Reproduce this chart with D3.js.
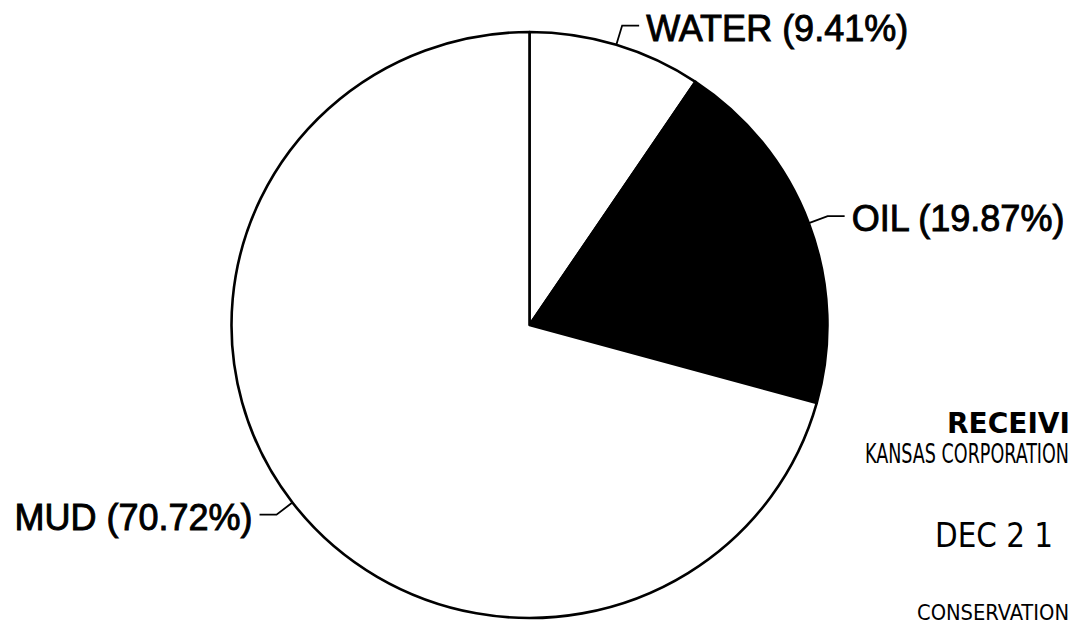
<!DOCTYPE html>
<html>
<head>
<meta charset="utf-8">
<script src="https://cdn.jsdelivr.net/npm/d3@7"></script>
<style>
  html, body { margin: 0; padding: 0; background: #fff; }
  svg { display: block; }
</style>
</head>
<body>
<svg id="chart" width="1072" height="620"></svg>
<script>
// ---- data ----
const categories = ["WATER", "OIL", "MUD"];
const values = [9.41, 19.87, 70.72];
const fills = ["#ffffff", "#000000", "#ffffff"];
const labels = ["WATER (9.41%)", "OIL (19.87%)", "MUD (70.72%)"];
// visible (cropped) text of the scanned "received" stamp
const stampLines = ["RECEIVI", "KANSAS CORPORATION", "DEC 2 1", "CONSERVATION"];

// ---- layout ----
const W = 1072, H = 620;
const cx = 529.5, cy = 325, rx = 298, ry = 293;
const svg = d3.select("#chart");

const pie = d3.pie().sort(null).value(d => d)(values);
const arc = d3.arc().innerRadius(0).outerRadius(1);

const g = svg.append("g").attr("transform", `translate(${cx},${cy}) scale(${rx},${ry})`);
g.selectAll("path.slice")
  .data(pie)
  .enter().append("path")
  .attr("class", "slice")
  .attr("d", arc)
  .attr("fill", (d, i) => fills[i])
  .attr("stroke", "#000")
  .attr("stroke-width", 2.6)
  .attr("stroke-linejoin", "round")
  .attr("vector-effect", "non-scaling-stroke");

// ---- leader lines & labels ----
const font = "'Liberation Sans', Arial, Helvetica, sans-serif";
pie.forEach((d, i) => {
  const a = (d.startAngle + d.endAngle) / 2;
  const sx = Math.sin(a), sy = -Math.cos(a);
  const p0 = [cx + rx * sx, cy + ry * sy];
  const p1 = [p0[0] + 20 * sx, p0[1] + 20 * sy];
  const side = sx >= 0 ? 1 : -1;
  const p2 = [p1[0] + 17 * side, p1[1]];
  svg.append("path")
    .attr("d", d3.line()([p0, p1, p2]))
    .attr("fill", "none")
    .attr("stroke", "#000")
    .attr("stroke-width", 1.8);
  svg.append("text")
    .attr("x", p2[0] + 7 * side)
    .attr("y", p1[1] + 15)
    .attr("text-anchor", side > 0 ? "start" : "end")
    .attr("font-family", font)
    .attr("font-size", 36)
    .attr("fill", "#000")
    .attr("stroke", "#000")
    .attr("stroke-width", 0.9)
    .text(labels[i]);
});

// ---- scanned "received" stamp ----
const stampFont = "'DejaVu Sans Condensed', 'DejaVu Sans', sans-serif";
function stamp(txt, x, y, size, len, bold) {
  svg.append("text").attr("x", x).attr("y", y)
    .attr("font-family", stampFont)
    .attr("font-weight", bold ? "bold" : "normal")
    .attr("font-size", size)
    .attr("textLength", len)
    .attr("lengthAdjust", "spacingAndGlyphs")
    .attr("fill", "#000")
    .text(txt);
}
stamp(stampLines[0], 947, 433, 29, 123, true);
stamp(stampLines[1], 865, 463, 26, 204, false);
stamp(stampLines[2], 935, 547, 34, 118, false);
stamp(stampLines[3], 917, 620, 22, 152, false);
</script>
</body>
</html>
